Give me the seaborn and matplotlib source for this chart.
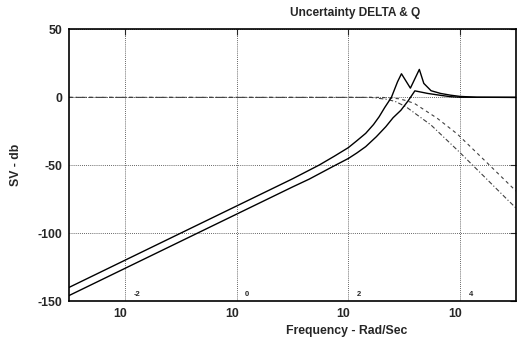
import numpy as np
import pandas as pd
import matplotlib
matplotlib.use("Agg")
import matplotlib.pyplot as plt
from matplotlib.transforms import ScaledTranslation
from matplotlib.ticker import FixedLocator, NullLocator
import seaborn as sns

# Singular value curves; frequencies given as log10(rad/sec), values in dB
delta_hi_dec = [-3, -2, -1, 0, 1.0, 1.48, 1.75, 2.0, 2.15, 2.31, 2.45, 2.55, 2.65,
                2.77, 2.88, 2.95, 3.11, 3.27, 3.35, 3.48, 3.65, 3.83, 4.0, 4.3, 5.0]
delta_hi_db = [-140, -120, -100, -80, -60, -49.8, -43.3, -37, -32, -26.5, -20, -14.3, -7.5,
               0.0, 11.5, 17.4, 6.8, 20.6, 10.3, 4.9, 2.9, 1.6, 0.7, 0.1, 0.0]

delta_lo_dec = [-3, -2, -1, 0, 1.0, 1.3, 1.72, 2.0, 2.15, 2.31, 2.5, 2.67, 2.8,
                2.94, 3.07, 3.19, 3.42, 3.65, 3.83, 4.0, 5.0]
delta_lo_db = [-146, -126, -106, -86, -66, -60.2, -51, -45, -41, -36.3, -29, -21.6, -15,
               -9.5, -2.5, 4.8, 2.9, 1.5, 0.5, 0.1, 0.0]

q_inner_dec = [-3, 2.4, 2.7, 2.85, 3.03, 3.48, 3.98, 4.40, 4.85, 5.0]
q_inner_db = [0, 0, -1.5, -3.2, -6.9, -20.4, -40, -57.1, -75.5, -81.5]

q_outer_dec = [-3, 2.6, 2.9, 3.0, 3.18, 3.59, 3.95, 4.49, 5.0]
q_outer_db = [0, 0, -1.0, -2.0, -4.4, -15.4, -27, -48.5, -69]

x_tick_exp = [-2, 0, 2, 4]
y_ticks = [50, 0, -50, -100, -150]

title_text = "Uncertainty DELTA & Q"
x_label = "Frequency - Rad/Sec"
y_label = "SV - db"

sns.set_style("white")
plt.rcParams["font.family"] = ["Liberation Sans", "DejaVu Sans"]
plt.rcParams["font.weight"] = "bold"

fig = plt.figure(figsize=(5.21, 3.40), dpi=100)
ax = fig.add_axes([69 / 521, 1 - 301 / 340, (516 - 69) / 521, (301 - 29.5) / 340])


def frame(dec, db):
    return pd.DataFrame({"freq": np.power(10.0, dec), "db": db})


sns.lineplot(data=frame(q_inner_dec, q_inner_db), x="freq", y="db", ax=ax,
             estimator=None, sort=False, color="0.25", lw=0.8,
             linestyle=(0, (4, 2, 1, 2)))
sns.lineplot(data=frame(q_outer_dec, q_outer_db), x="freq", y="db", ax=ax,
             estimator=None, sort=False, color="0.25", lw=0.8,
             linestyle=(0, (3, 3)))
sns.lineplot(data=frame(delta_hi_dec, delta_hi_db), x="freq", y="db", ax=ax,
             estimator=None, sort=False, color="black", lw=1.0)
sns.lineplot(data=frame(delta_lo_dec, delta_lo_db), x="freq", y="db", ax=ax,
             estimator=None, sort=False, color="black", lw=1.0)

ax.set_xscale("log")
ax.set_xlim(1e-3, 1e5)
ax.set_ylim(-150, 50)
ax.xaxis.set_major_locator(FixedLocator([10.0 ** e for e in x_tick_exp]))
ax.xaxis.set_minor_locator(NullLocator())
ax.set_xticklabels(["10"] * len(x_tick_exp))
ax.set_yticks(y_ticks)
ax.set_yticklabels([str(v) for v in y_ticks])
ax.set_xlabel("")
ax.set_ylabel("")

ax.grid(True, which="major", linestyle=(0, (1, 1.5)), color="0.2", lw=0.6)
ax.tick_params(direction="in", length=4, width=0.8, top=True, right=True,
               labelsize=8.8, pad=5)
for s in ax.spines.values():
    s.set_color("black")
    s.set_linewidth(1.2)

shift = ScaledTranslation(-5 / 100, 0, fig.dpi_scale_trans)
for lab in ax.get_xticklabels():
    lab.set_transform(lab.get_transform() + shift)
    lab.set_fontweight("bold")
for lab in ax.get_yticklabels():
    lab.set_fontweight("bold")

# decade exponents written beside each "10"
for e in x_tick_exp:
    ax.annotate(str(e), xy=(10.0 ** e, 0), xycoords=("data", "axes fraction"),
                xytext=(6, 2), textcoords="offset points",
                fontsize=5.5, fontweight="bold", ha="left", va="bottom")

fig.text(355 / 521, 1 - 13 / 340, title_text, ha="center", va="center",
         fontsize=8.6, fontweight="bold")
fig.text(347 / 521, 1 - 331 / 340, x_label, ha="center", va="center",
         fontsize=8.8, fontweight="bold")
fig.text(16 / 521, 1 - 165 / 340, y_label, ha="center", va="center",
         rotation=90, fontsize=8.8, fontweight="bold")

fig.savefig("out.png", dpi=100)
